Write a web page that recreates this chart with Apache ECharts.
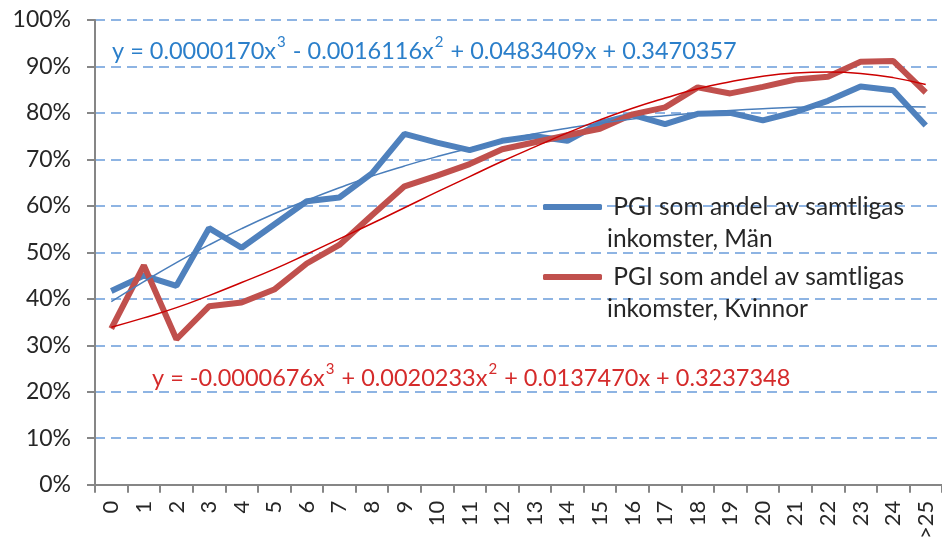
<!DOCTYPE html>
<html>
<head>
<meta charset="utf-8">
<script src="https://cdn.jsdelivr.net/npm/echarts@6/dist/echarts.min.js"></script>
<style>
  html, body { margin: 0; padding: 0; background: #fff; }
  #charts_main { width: 942px; height: 542px; }
</style>
</head>
<body>
<div id="charts_main"></div>
<script>
// categories (years) and shares in percent
const categories = ['0', '1', '2', '3', '4', '5', '6', '7', '8', '9', '10', '11', '12',
  '13', '14', '15', '16', '17', '18', '19', '20', '21', '22', '23', '24', '>25'];

const maleValues = [41.7, 45.0, 42.8, 55.2, 51.0, 56.0, 61.0, 61.8, 67.0, 75.5, 73.6, 72.0, 74.0,
  75.0, 74.0, 77.8, 79.6, 77.6, 79.8, 80.0, 78.4, 80.2, 82.6, 85.7, 84.9, 77.3];
const femaleValues = [33.6, 47.2, 31.3, 38.4, 39.2, 42.0, 47.6, 51.6, 58.0, 64.2, 66.5, 69.0, 72.2,
  73.7, 75.2, 76.6, 79.7, 81.2, 85.5, 84.2, 85.6, 87.2, 87.8, 91.0, 91.2, 84.4];

// trend lines (polynomial) as they appear in the picture
const maleTrend = [39.4, 43.7, 47.8, 51.6, 55.1, 58.3, 61.2, 63.9, 66.4, 68.6, 70.6, 72.4, 74.0,
  75.5, 76.7, 77.8, 78.7, 79.4, 80.0, 80.5, 80.9, 81.2, 81.3, 81.4, 81.4, 81.3];
const femaleTrend = [33.9, 35.9, 38.1, 40.7, 43.5, 46.4, 49.6, 52.9, 56.2, 59.6, 63.0, 66.3, 69.6,
  72.7, 75.7, 78.5, 81.0, 83.2, 85.2, 86.7, 87.9, 88.6, 88.8, 88.5, 87.6, 86.1];

const maleName = ' PGI som andel av samtligas\ninkomster, Män';
const femaleName = ' PGI som andel av samtligas\ninkomster, Kvinnor';

// trendline equations, {s|} = superscript
const maleEquation = '{n|y = 0.0000170x}{s|3}{n| - 0.0016116x}{s|2}{n| + 0.0483409x + 0.3470357}';
const femaleEquation = '{n|y = -0.0000676x}{s|3}{n| + 0.0020233x}{s|2}{n| + 0.0137470x + 0.3237348}';

const FONT = 'Lato, "Open Sans", sans-serif';
const LH = 32;

const eqRich = (color) => ({
  n: { fontFamily: FONT, fontSize: 23.5, fill: color, lineHeight: 28, verticalAlign: 'bottom' },
  s: { fontFamily: FONT, fontSize: 15, fill: color, lineHeight: 28, verticalAlign: 'top', padding: [0, 1, 0, 1] }
});

const legendBase = {
  left: 543, padding: 0, orient: 'vertical',
  icon: 'roundRect', itemWidth: 59, itemHeight: 6, itemGap: 0,
  // blank first line keeps the icon level with the first text line
  formatter: (name) => '\n' + name,
  textStyle: { fontFamily: FONT, fontSize: 24.5, color: '#262626', lineHeight: LH }
};

const Chart = echarts.init(document.getElementById('charts_main'));
const chart_option = {
  animation: false,
  grid: { left: 95, right: -6, top: 20, bottom: 53, containLabel: false },
  legend: [
    Object.assign({}, legendBase, { data: [maleName], top: 207 - 48 }),
    Object.assign({}, legendBase, { data: [femaleName], top: 277 - 48 })
  ],
  xAxis: {
    type: 'category',
    data: categories,
    boundaryGap: true,
    axisLine: { lineStyle: { color: '#868686', width: 2 } },
    axisTick: { show: true, length: 8, alignWithLabel: false, lineStyle: { color: '#868686', width: 2 } },
    axisLabel: {
      rotate: 90, interval: 0, margin: 16,
      fontFamily: FONT, fontSize: 22, color: '#262626'
    },
    splitLine: { show: false }
  },
  yAxis: {
    type: 'value',
    min: 0, max: 100, interval: 10,
    axisLine: { show: true, lineStyle: { color: '#868686', width: 2 } },
    axisTick: { show: true, length: 8, lineStyle: { color: '#868686', width: 2 } },
    axisLabel: {
      formatter: '{value}%', margin: 24,
      fontFamily: FONT, fontSize: 23, color: '#262626'
    },
    splitLine: { lineStyle: { color: '#8eb4e3', width: 2, type: [10, 6] } }
  },
  series: [
    {
      name: maleName, type: 'line', data: maleValues, symbol: 'none',
      lineStyle: { color: '#4f81bd', width: 6 }, itemStyle: { color: '#4f81bd' }, z: 2
    },
    {
      name: femaleName, type: 'line', data: femaleValues, symbol: 'none',
      lineStyle: { color: '#c0504d', width: 6 }, itemStyle: { color: '#c0504d' }, z: 3
    },
    {
      name: 'trend_m', type: 'line', data: maleTrend, symbol: 'none', smooth: true,
      lineStyle: { color: '#4a7ebb', width: 1.5 }, z: 4
    },
    {
      name: 'trend_k', type: 'line', data: femaleTrend, symbol: 'none', smooth: true,
      lineStyle: { color: '#cc0000', width: 1.5 }, z: 4
    }
  ],
  graphic: [
    {
      type: 'text', left: 112, top: 35,
      style: { text: maleEquation, rich: eqRich('#2b7fca') }
    },
    {
      type: 'text', left: 152, top: 362,
      style: { text: femaleEquation, rich: eqRich('#d52b2b') }
    }
  ]
};
Chart.setOption(chart_option);
</script>
</body>
</html>
